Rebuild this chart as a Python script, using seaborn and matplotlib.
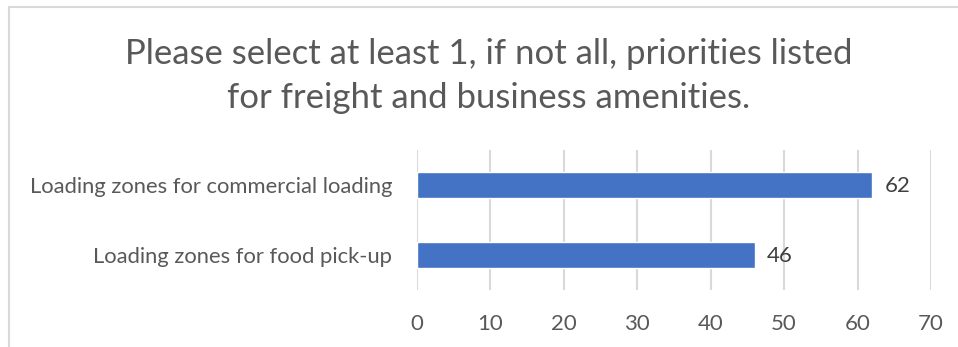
import matplotlib
matplotlib.use("Agg")
import matplotlib.pyplot as plt
import seaborn as sns
import pandas as pd
from matplotlib.lines import Line2D

categories = ["Loading zones for commercial loading", "Loading zones for food pick-up"]
values = [62, 46]
xticks = [0, 10, 20, 30, 40, 50, 60, 70]
title = "Please select at least 1, if not all, priorities listed\nfor freight and business amenities."

sns.set_theme(style="white")
plt.rcParams['font.family'] = ['Lato', 'DejaVu Sans']

W, H = 958, 347
fig = plt.figure(figsize=(W/100, H/100), dpi=100)
fig.patch.set_facecolor("white")

ax = fig.add_axes([417/W, (H-290)/H, (931-417)/W, 140/H])
df = pd.DataFrame({"cat": categories, "val": values})
sns.barplot(data=df, x="val", y="cat", orient="h", color="#4472C4", width=0.36,
            saturation=1, ax=ax)
ax.set_xlim(0, 70)
ax.set_ylim(1.5, -0.5)
ax.set_xticks(xticks)
ax.set_xlabel("")
ax.set_ylabel("")
for s in ax.spines.values():
    s.set_visible(False)
ax.grid(axis="x", color="#D9D9D9", linewidth=1.5)
ax.set_axisbelow(True)
ax.tick_params(axis="x", length=0, pad=17.5, labelsize=16, labelcolor="#595959")
ax.tick_params(axis="y", length=0, pad=18, labelsize=15.8, labelcolor="#595959")

for i, v in enumerate(values):
    ax.annotate(str(v), (v, i), xytext=(12, -1), textcoords="offset pixels",
                va="center", ha="left", fontsize=16, color="#404040")

fig.text(489/W, 1 - 76/H, title, ha="center", va="center", fontsize=25,
         color="#595959", linespacing=1.5)

# chart area border (top and left)
fig.add_artist(Line2D([8.5/W, 8.5/W], [0, 1 - 7/H], transform=fig.transFigure,
                      color="#D9D9D9", linewidth=1.5))
fig.add_artist(Line2D([8.5/W, 1], [1 - 7/H, 1 - 7/H], transform=fig.transFigure,
                      color="#D9D9D9", linewidth=1.5))

fig.savefig("out.png", dpi=100, facecolor="white")
